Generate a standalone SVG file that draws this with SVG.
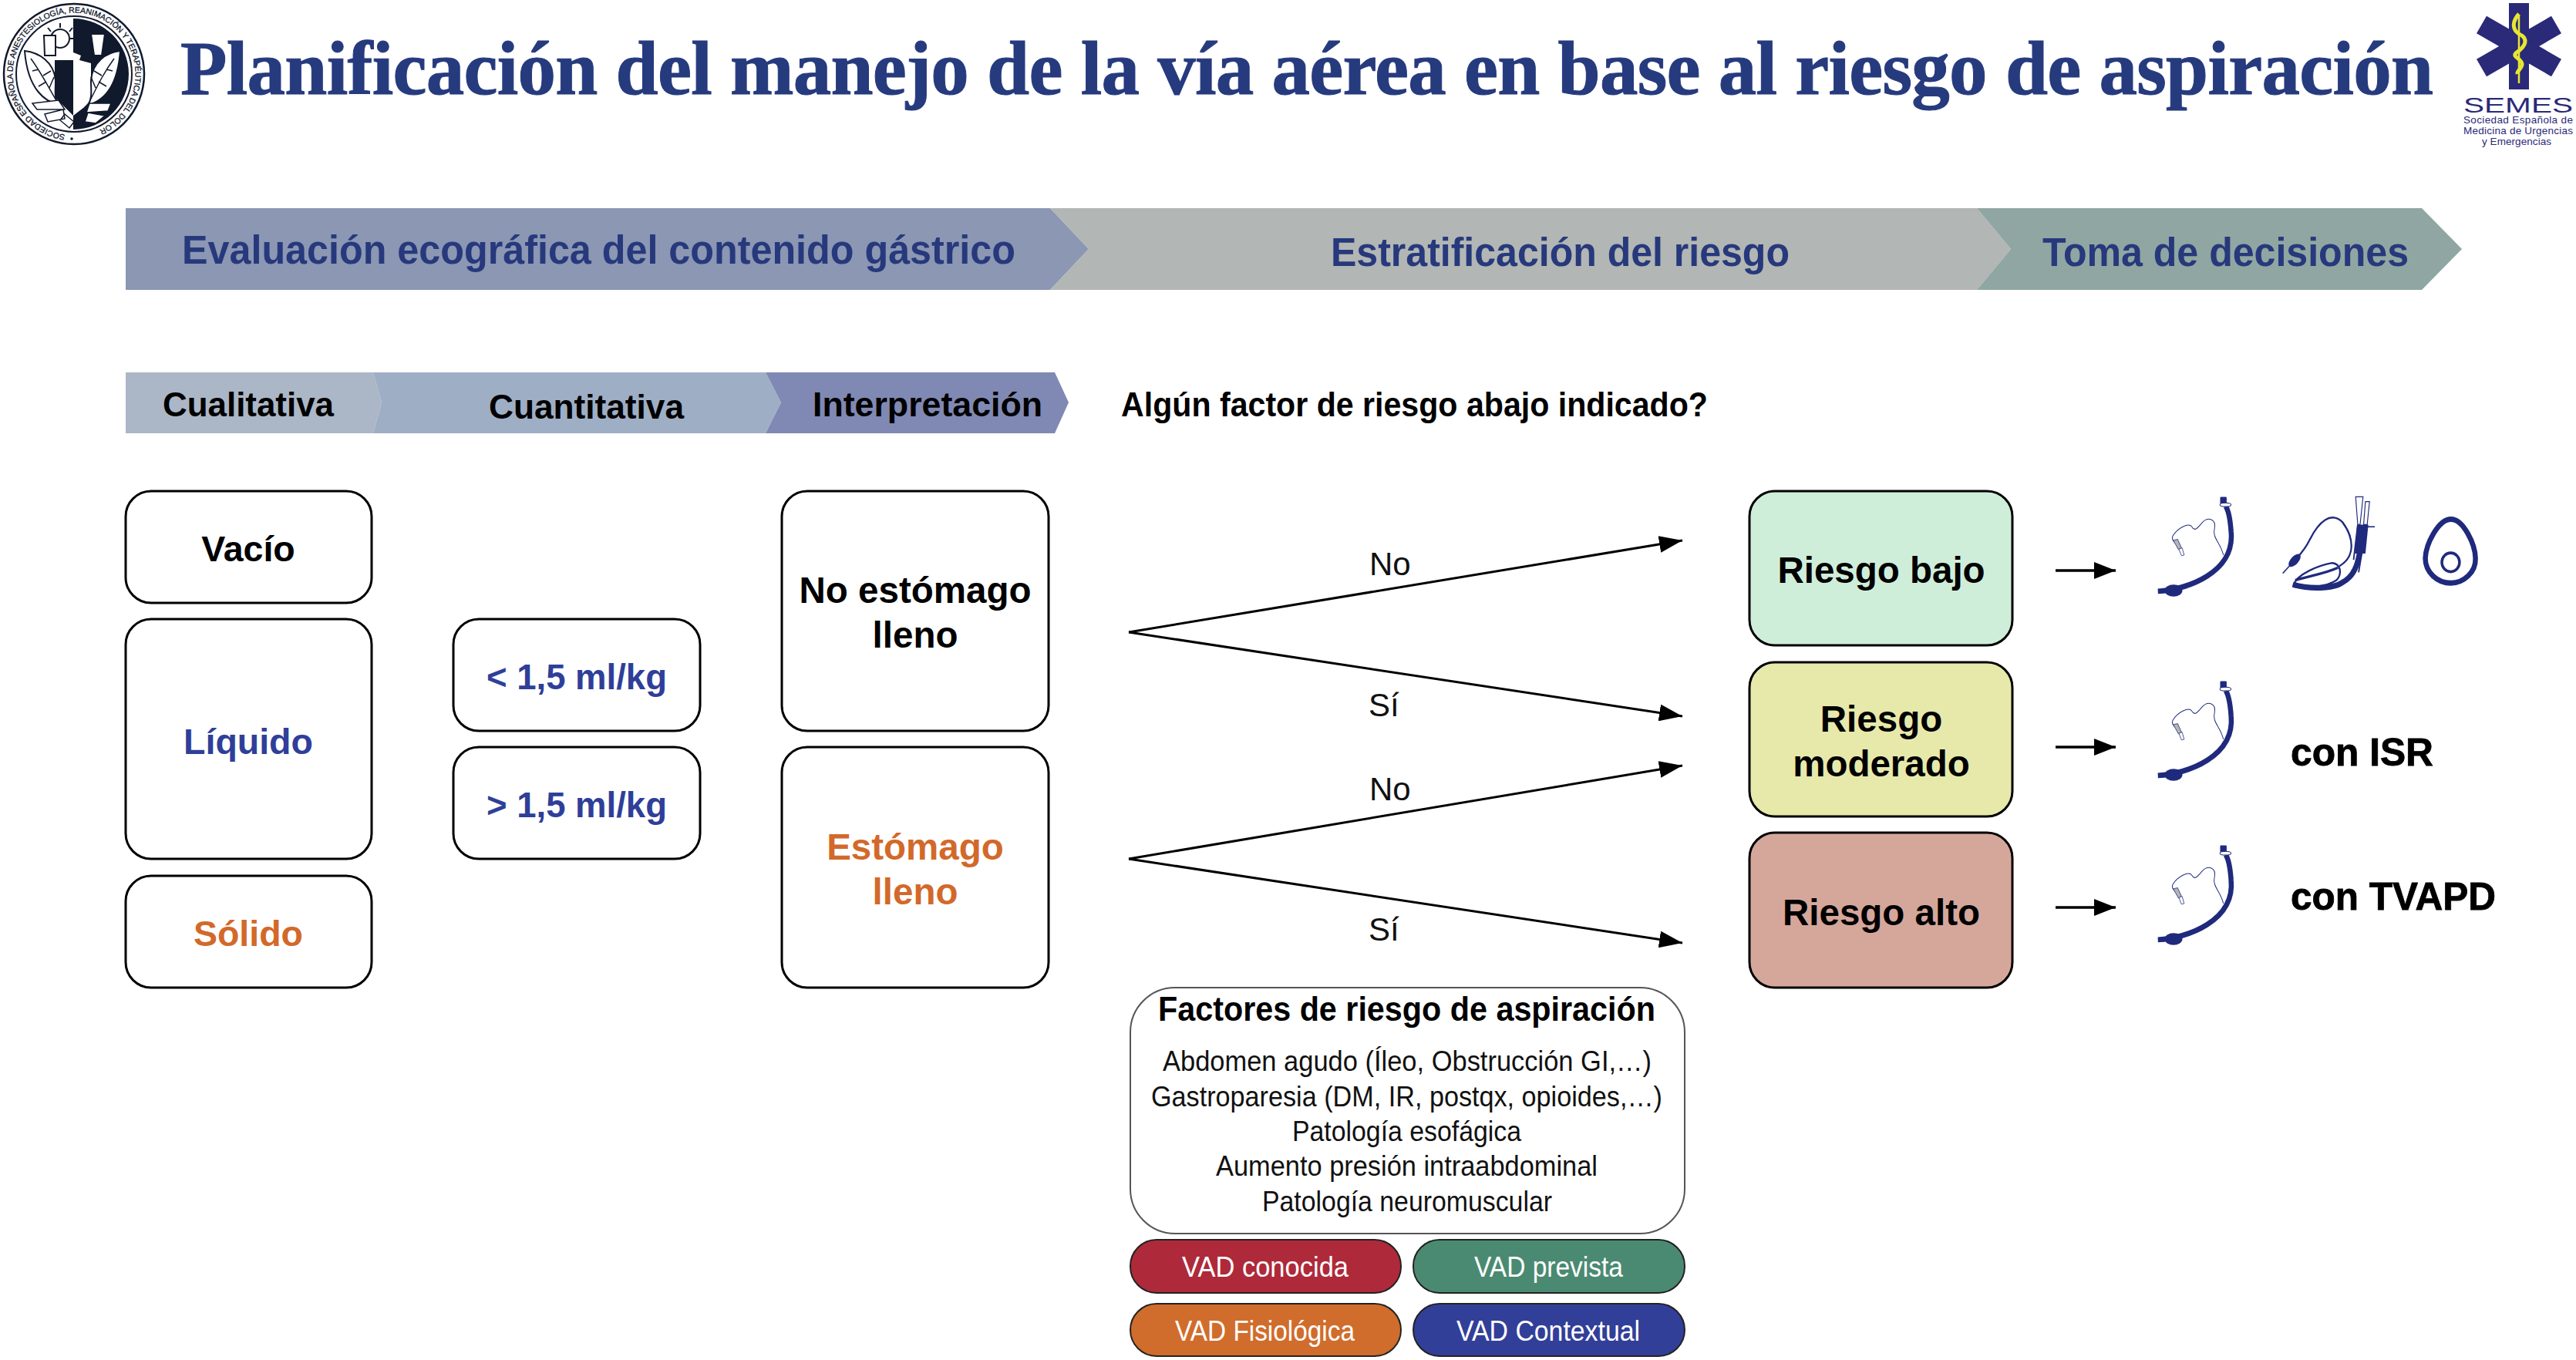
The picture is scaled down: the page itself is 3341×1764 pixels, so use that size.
<svg xmlns="http://www.w3.org/2000/svg" xmlns:xlink="http://www.w3.org/1999/xlink" width="3341" height="1764" viewBox="0 0 3341 1764">
<style>
text{font-family:"Liberation Sans",Arial,sans-serif}
.b{font-weight:700}
.band{font-size:51px;font-weight:700;fill:#27397c}
.sub{font-size:44px;font-weight:700;fill:#000}
.n{font-size:47.5px;font-weight:700;fill:#000;text-anchor:middle}
.c1{font-size:46.5px}
.c2{font-size:45.5px}
.blue{fill:#2f3f99}.or{fill:#d2692a}
.box{fill:#fff;stroke:#000;stroke-width:3}
.lab{font-size:42px;fill:#111}
.fac{font-size:36px;fill:#111}
.pill{stroke:#222;stroke-width:2}
.pt{font-size:37px;fill:#fff}
.con{stroke:#000;stroke-width:3;fill:none;marker-end:url(#ah)}
.con2{stroke:#000;stroke-width:3.5;fill:none;marker-end:url(#ah2)}
.nv{fill:none;stroke:#1f2a7c}
</style>
<defs>
<marker id="ah" markerUnits="userSpaceOnUse" markerWidth="32" markerHeight="22" refX="30" refY="11" orient="auto"><path d="M0 0L30 11L0 22Z" fill="#000"/></marker>
<marker id="ah2" markerUnits="userSpaceOnUse" markerWidth="30" markerHeight="24" refX="28" refY="11" orient="auto"><path d="M0 0L28 11L0 22Z" fill="#000"/></marker>
<g id="ett">
<path d="M420 360C520 355 682 300 668 170C665 130 660 105 650 90" class="nv" stroke-width="17"/>
<ellipse cx="473" cy="358" rx="30" ry="19" fill="#1f2a7c"/>
<rect x="631" y="60" width="22" height="22" rx="3" fill="#1f2a7c"/>
<ellipse cx="649" cy="85" rx="19" ry="6" fill="#fff" stroke="#1f2a7c" stroke-width="2.5"/>
<path d="M642 245C632 205 603 190 612 160C618 130 590 122 570 142C555 158 545 172 535 155C525 140 485 160 470 185C466 195 472 200 480 208" class="nv" stroke-width="2.5"/>
<path d="M472 198L487 195L500 222L490 228Z" fill="#b5b5b5" stroke="#1f2a7c" stroke-width="2"/>
<path d="M491 226L502 222L509 245L500 247Z" fill="#fff" stroke="#1f2a7c" stroke-width="2"/>
</g>
</defs>
<rect width="3341" height="1764" fill="#fff"/>

<g id="logo-seal">
<circle cx="96" cy="96" r="91" fill="#fff" stroke="#11192c" stroke-width="2.5"/>
<circle cx="96" cy="96" r="75" fill="#fff" stroke="#11192c" stroke-width="2"/>
<path d="M95 24A72 72 0 0 1 95 168Z" fill="#11192c"/>
<path id="sealarc" d="M90.5 175.3A79.5 79.5 0 1 1 101.5 175.3" fill="none"/>
<text font-size="10.5" fill="#11192c" stroke="#11192c" stroke-width=".3"><textPath xlink:href="#sealarc" href="#sealarc" startOffset="6">SOCIEDAD ESPAÑOLA DE ANESTESIOLOGÍA, REANIMACIÓN Y TERAPÉUTICA DEL DOLOR</textPath></text>
<circle cx="93" cy="180" r="1.8" fill="#11192c"/>
<circle cx="78" cy="50" r="12" fill="#fff" stroke="#11192c" stroke-width="2"/>
<path d="M78 30V36M62 36L66 41M94 36L90 41M97 50H91M59 50H65" stroke="#11192c" stroke-width="2"/>
<path d="M57 46H72V72H58ZM118 44H136L132 72H122Z" fill="#fff" stroke="#11192c" stroke-width="2"/>
<path d="M72 78L95 68L105 72L103 78L118 82L118 130L108 140L95 150L95 78Z" fill="#fff"/>
<path d="M71 78H95V150L71 126Z" fill="#11192c"/>
<path d="M32 66C50 68 70 80 72 104C72 118 70 128 76 136C60 132 36 118 32 66Z" fill="#fff" stroke="#11192c" stroke-width="2"/>
<path d="M40 76C52 92 60 108 74 132M50 90L42 92M60 106L50 112M56 98L66 92M64 114L70 100" fill="none" stroke="#11192c" stroke-width="1.5"/>
<path d="M156 66C138 68 120 80 118 104C118 118 120 128 114 136C130 132 152 118 156 66Z" fill="#fff" stroke="#11192c" stroke-width="2"/>
<path d="M148 76C136 92 128 108 116 132M138 90L146 92M128 106L138 112M132 98L122 92M124 114L118 100" fill="none" stroke="#11192c" stroke-width="1.5"/>
<path d="M42 134L76 130L84 142L48 142ZM116 134L144 134L140 144L112 146ZM58 148L82 142L84 154L62 158ZM84 148L96 158L90 166L78 156ZM114 146L136 150L124 160L110 158Z" fill="#fff" stroke="#11192c" stroke-width="1.5"/>
</g>

<g id="logo-semes">
<g fill="#2a2a78"><rect x="3254" y="4" width="26" height="112"/><rect x="3254" y="4" width="26" height="112" transform="rotate(60 3267 60)"/><rect x="3254" y="4" width="26" height="112" transform="rotate(-60 3267 60)"/></g>
<path d="M3267 20V108" stroke="#e6e634" stroke-width="2.5"/>
<path d="M3267 18C3258 28 3258 38 3267 44C3280 50 3276 60 3264 68C3256 74 3272 76 3271 84C3270 90 3264 92 3265 96" fill="none" stroke="#e6e634" stroke-width="5"/>
<text x="3195" y="146" font-size="27" fill="#2a2a78" textLength="142" lengthAdjust="spacingAndGlyphs">SEMES</text>
<text x="3195" y="160" font-size="13.5" fill="#2a2a78" textLength="142">Sociedad Española de</text>
<text x="3195" y="174" font-size="13.5" fill="#2a2a78" textLength="142">Medicina de Urgencias</text>
<text x="3219" y="188" font-size="13.5" fill="#2a2a78" textLength="90">y Emergencias</text>
</g>

<text id="title" x="234" y="122" font-size="99" font-weight="700" fill="#263a7e" stroke="#263a7e" stroke-width="1" style="font-family:'Liberation Serif',serif" textLength="2922">Planificación del manejo de la vía aérea en base al riesgo de aspiración</text>

<g id="band-evaluacion"><path d="M163 270H1362L1412 323L1362 376H163Z" fill="#8b97b3"/></g>
<g id="band-estratificacion"><path d="M1362 270H2564L2608 323L2564 376H1362L1412 323Z" fill="#b2b6b4"/></g>
<g id="band-toma"><path d="M2564 270H3141L3193 323L3141 376H2564L2608 323Z" fill="#90a6a2"/></g>
<text class="band" x="236" y="342" textLength="1081" lengthAdjust="spacingAndGlyphs">Evaluación ecográfica del contenido gástrico</text>
<text class="band" x="1726" y="345" textLength="595" lengthAdjust="spacingAndGlyphs">Estratificación del riesgo</text>
<text class="band" x="2649" y="345" textLength="475" lengthAdjust="spacingAndGlyphs">Toma de decisiones</text>

<g id="sub-cualitativa"><path d="M163 483H484L495 522L484 562H163Z" fill="#abb7c6"/><text class="sub" x="211" y="540" textLength="222" lengthAdjust="spacingAndGlyphs">Cualitativa</text></g>
<g id="sub-cuantitativa"><path d="M484 483H993L1013 522L993 562H484L495 522Z" fill="#9eaec5"/><text class="sub" x="634" y="543" textLength="253" lengthAdjust="spacingAndGlyphs">Cuantitativa</text></g>
<g id="sub-interpretacion"><path d="M993 483H1368L1386 522L1368 562H993L1013 522Z" fill="#8089b3"/><text class="sub" x="1054" y="540" textLength="298" lengthAdjust="spacingAndGlyphs">Interpretación</text></g>
<text class="sub" x="1454" y="540" textLength="761" lengthAdjust="spacingAndGlyphs">Algún factor de riesgo abajo indicado?</text>

<g id="n-vacio"><rect class="box" x="163" y="637" width="319" height="145" rx="33"/><text class="n c1" x="322" y="728">Vacío</text></g>
<g id="n-liquido"><rect class="box" x="163" y="803" width="319" height="311" rx="33"/><text class="n c1 blue" x="322" y="978">Líquido</text></g>
<g id="n-solido"><rect class="box" x="163" y="1136" width="319" height="145" rx="33"/><text class="n c1 or" x="322" y="1227">Sólido</text></g>
<g id="n-menor"><rect class="box" x="588" y="803" width="320" height="145" rx="33"/><text class="n c2 blue" x="748" y="894">&lt; 1,5 ml/kg</text></g>
<g id="n-mayor"><rect class="box" x="588" y="969" width="320" height="145" rx="33"/><text class="n c2 blue" x="748" y="1060">&gt; 1,5 ml/kg</text></g>
<g id="n-noestomago"><rect class="box" x="1014" y="637" width="346" height="311" rx="33"/><text class="n" x="1187" y="782">No estómago</text><text class="n" x="1187" y="840">lleno</text></g>
<g id="n-estomago"><rect class="box" x="1014" y="969" width="346" height="312" rx="33"/><text class="n or" x="1187" y="1115">Estómago</text><text class="n or" x="1187" y="1173">lleno</text></g>
<g id="n-bajo"><rect class="box" x="2269" y="637" width="341" height="200" rx="33" style="fill:#cfeeda"/><text class="n" x="2440" y="756">Riesgo bajo</text></g>
<g id="n-moderado"><rect class="box" x="2269" y="859" width="341" height="200" rx="33" style="fill:#e7e9ab"/><text class="n" x="2440" y="949">Riesgo</text><text class="n" x="2440" y="1007">moderado</text></g>
<g id="n-alto"><rect class="box" x="2269" y="1080" width="341" height="201" rx="33" style="fill:#d5a79b"/><text class="n" x="2440" y="1200">Riesgo alto</text></g>

<g id="connectors">
<path class="con" d="M1464 820L2182 701"/>
<path class="con" d="M1464 820L2182 929"/>
<path class="con" d="M1464 1114L2182 993"/>
<path class="con" d="M1464 1114L2182 1223"/>
<path class="con2" d="M2666 740H2744"/>
<path class="con2" d="M2666 969H2744"/>
<path class="con2" d="M2666 1177H2744"/>
</g>
<text class="lab" x="1776" y="746">No</text>
<text class="lab" x="1775" y="929">Sí</text>
<text class="lab" x="1776" y="1038">No</text>
<text class="lab" x="1775" y="1220">Sí</text>

<g id="factores">
<rect x="1466" y="1281" width="719" height="319" rx="58" fill="#fff" stroke="#555" stroke-width="2"/>
<text x="1502" y="1324" font-size="44" font-weight="700" fill="#000" textLength="645" lengthAdjust="spacingAndGlyphs">Factores de riesgo de aspiración</text>
<text class="fac" x="1508" y="1389" textLength="634" lengthAdjust="spacingAndGlyphs">Abdomen agudo (Íleo, Obstrucción GI,…)</text>
<text class="fac" x="1493" y="1435" textLength="663" lengthAdjust="spacingAndGlyphs">Gastroparesia (DM, IR, postqx, opioides,…)</text>
<text class="fac" x="1676" y="1480" textLength="297" lengthAdjust="spacingAndGlyphs">Patología esofágica</text>
<text class="fac" x="1577" y="1525" textLength="495" lengthAdjust="spacingAndGlyphs">Aumento presión intraabdominal</text>
<text class="fac" x="1637" y="1571" textLength="376" lengthAdjust="spacingAndGlyphs">Patología neuromuscular</text>
</g>
<g id="vad-conocida"><rect class="pill" x="1466" y="1608" width="351" height="69" rx="34" fill="#ae2a3a"/><text class="pt" x="1533" y="1656" textLength="216" lengthAdjust="spacingAndGlyphs">VAD conocida</text></g>
<g id="vad-prevista"><rect class="pill" x="1833" y="1608" width="352" height="69" rx="34" fill="#4b8a72"/><text class="pt" x="1912" y="1656" textLength="193" lengthAdjust="spacingAndGlyphs">VAD prevista</text></g>
<g id="vad-fisiologica"><rect class="pill" x="1466" y="1691" width="351" height="68" rx="34" fill="#d06d2c"/><text class="pt" x="1524" y="1739" textLength="233" lengthAdjust="spacingAndGlyphs">VAD Fisiológica</text></g>
<g id="vad-contextual"><rect class="pill" x="1833" y="1691" width="352" height="68" rx="34" fill="#323f98"/><text class="pt" x="1889" y="1739" textLength="238" lengthAdjust="spacingAndGlyphs">VAD Contextual</text></g>

<g id="icon-tubo-1"><use href="#ett" transform="matrix(.3827 0 0 .408 2638 620)"/></g>
<g id="icon-tubo-2"><use href="#ett" transform="matrix(.3827 0 0 .408 2638 859)"/></g>
<g id="icon-tubo-3"><use href="#ett" transform="matrix(.3827 0 0 .408 2638 1072)"/></g>
<g id="icon-mascara-laringea" transform="matrix(.3827 0 0 .408 2640 620)">
<path d="M875 340C885 305 960 278 1005 270C1035 272 1040 305 1020 325C985 348 910 352 875 340Z" fill="#fff" stroke="#1f2a7c" stroke-width="6"/>
<path d="M872 338C930 355 1010 352 1040 332C1085 310 1100 270 1108 150" fill="none" stroke="#1f2a7c" stroke-width="18"/>
<path d="M880 325C930 310 980 305 1025 285" fill="none" stroke="#1f2a7c" stroke-width="8"/>
<path d="M1078 260L1092 150M1095 300L1122 150" fill="none" stroke="#1f2a7c" stroke-width="5"/>
<path d="M1030 280C1085 250 1080 190 1040 140C1000 105 960 140 930 195C915 225 900 240 885 255" fill="none" stroke="#1f2a7c" stroke-width="6"/>
<ellipse cx="878" cy="262" rx="26" ry="13" transform="rotate(-45 878 262)" fill="#1f2a7c"/>
<path d="M865 275L838 303" stroke="#1f2a7c" stroke-width="4"/>
<path d="M1090 148H1128L1118 240H1082Z" fill="#1f2a7c"/>
<path d="M1090 155H1150" stroke="#1f2a7c" stroke-width="4"/>
<path d="M1085 60H1110L1100 148H1092ZM1118 75H1132L1124 148H1112Z" fill="#fff" stroke="#1f2a7c" stroke-width="3"/>
</g>
<g id="icon-mascara-facial" transform="matrix(.3827 0 0 .408 2640 620)">
<path d="M1408 131C1450 131 1490 210 1491 255C1493 300 1450 334 1408 334C1362 334 1321 300 1321 255C1323 210 1365 131 1408 131Z" class="nv" stroke-width="17"/>
<circle cx="1407" cy="268" r="30" class="nv" stroke-width="9"/>
</g>
<text class="b" x="2971" y="993" font-size="50" fill="#000" stroke="#000" stroke-width=".8" textLength="185" lengthAdjust="spacingAndGlyphs">con ISR</text>
<text class="b" x="2971" y="1180" font-size="50" fill="#000" stroke="#000" stroke-width=".8" textLength="266" lengthAdjust="spacingAndGlyphs">con TVAPD</text>
</svg>
